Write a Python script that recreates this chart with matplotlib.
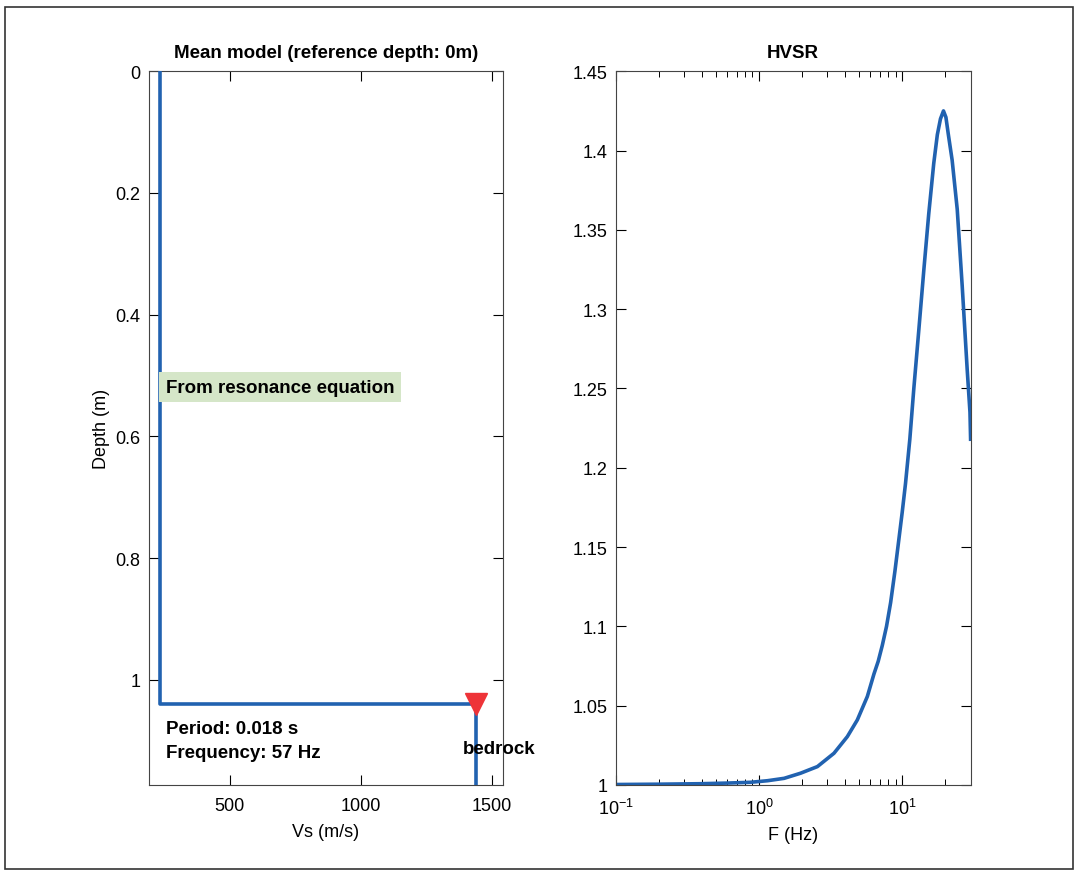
"""Mean Vs model and HVSR curve, two panels side by side (MATLAB-like look)."""
import matplotlib
matplotlib.use("Agg")
import matplotlib.pyplot as plt
from matplotlib.patches import Rectangle
from matplotlib.ticker import FixedLocator, LogLocator, NullFormatter

plt.rcParams["font.family"] = ["Liberation Sans", "DejaVu Sans"]

# --- mean model (left panel) ---
vs_profile = [236, 236, 1438, 1438]          # m/s
depth_profile = [0.0, 1.040, 1.040, 1.20]    # m
bedrock_vs = 1438
bedrock_depth = 1.040
period_s = 0.018
freq_hz = 57

# --- HVSR curve (right panel) ---
freq = [0.1, 0.2, 0.39, 0.6, 0.875, 1.15, 1.5, 1.95, 2.56, 3.34, 4.14, 4.86,
        5.71, 6.35, 6.8, 7.26, 7.77, 8.30, 8.9, 9.48, 10.0, 10.54, 11.30,
        12.05, 13.06, 14.16, 15.31, 16.6, 17.58, 18.49, 19.4, 20.18, 20.99,
        22.3, 24.2, 26.2, 28.4, 29.7, 30.0]
hvsr = [1.0003, 1.0005, 1.0008, 1.0012, 1.0017, 1.0027, 1.0042, 1.0074,
        1.0116, 1.0200, 1.0305, 1.041, 1.0558, 1.0700, 1.0780, 1.0880,
        1.1000, 1.1150, 1.1350, 1.1550, 1.1720, 1.190, 1.218, 1.250, 1.287,
        1.325, 1.360, 1.392, 1.410, 1.420, 1.425, 1.421, 1.410, 1.394, 1.363,
        1.315, 1.262, 1.235, 1.218]

BLUE = "#2162b0"

fig = plt.figure(figsize=(10.8, 8.78), dpi=100)
fig.patches.append(Rectangle((5 / 1080, 1 - 870 / 878), 1068 / 1080, 862 / 878,
                             transform=fig.transFigure, fill=False,
                             edgecolor="#333333", linewidth=1.2))

ax1 = fig.add_axes([0.138, 0.1048, 0.3278, 0.8129])
ax2 = fig.add_axes([0.570, 0.1048, 0.3287, 0.8129])

for ax in (ax1, ax2):
    ax.tick_params(direction="in", top=True, right=True, labelsize=13,
                   length=7, width=0.8, pad=6)
    ax.tick_params(axis="x", pad=9)
    ax.tick_params(which="minor", direction="in", top=True, right=True,
                   length=4, width=0.7)
    for sp in ax.spines.values():
        sp.set_linewidth(0.8)
        sp.set_color("#444444")

# left panel
ax1.plot(vs_profile, depth_profile, color=BLUE, linewidth=2.6, zorder=3)
ax1.plot([bedrock_vs], [bedrock_depth], marker="v", color="#ee3338",
         markersize=16, linestyle="none", zorder=4, clip_on=False)
ax1.set_xlim(193, 1542)
ax1.set_ylim(1.173, 0)
ax1.xaxis.set_major_locator(FixedLocator([500, 1000, 1500]))
ax1.yaxis.set_major_locator(FixedLocator([0, 0.2, 0.4, 0.6, 0.8, 1]))
ax1.set_yticklabels(["0", "0.2", "0.4", "0.6", "0.8", "1"])
ax1.set_xlabel("Vs (m/s)", fontsize=13, labelpad=6)
ax1.set_ylabel("Depth (m)", fontsize=13)
ax1.set_title("Mean model (reference depth: 0m)", fontsize=13.5,
              fontweight="bold", pad=10)
ax1.text(256, 0.519, "From resonance equation", fontsize=13.5,
         fontweight="bold", va="center", ha="left",
         bbox=dict(boxstyle="square,pad=0.35", facecolor="#d5e6c8",
                   edgecolor="none"), zorder=5)
ax1.text(256, 1.100, f"Period: {period_s} s\nFrequency: {freq_hz} Hz",
         fontsize=13.5, fontweight="bold", va="center", ha="left",
         linespacing=1.5)
ax1.text(1528, 1.113, "bedrock", fontsize=13.5, fontweight="bold",
         ha="center", va="center", zorder=5)

# right panel
ax2.semilogx(freq, hvsr, color=BLUE, linewidth=2.6)
ax2.set_xlim(0.1, 30)
ax2.set_ylim(1, 1.45)
ax2.yaxis.set_major_locator(FixedLocator([1, 1.05, 1.1, 1.15, 1.2, 1.25,
                                          1.3, 1.35, 1.4, 1.45]))
ax2.set_yticklabels(["1", "1.05", "1.1", "1.15", "1.2", "1.25", "1.3",
                     "1.35", "1.4", "1.45"])
ax2.xaxis.set_major_locator(LogLocator(base=10, numticks=10))
ax2.xaxis.set_minor_locator(LogLocator(base=10, subs=range(2, 10), numticks=10))
ax2.xaxis.set_minor_formatter(NullFormatter())
ax2.set_xlabel("F (Hz)", fontsize=13, labelpad=6)
ax2.set_title("HVSR", fontsize=13.5, fontweight="bold", pad=10)

fig.savefig("out.png", dpi=100)
